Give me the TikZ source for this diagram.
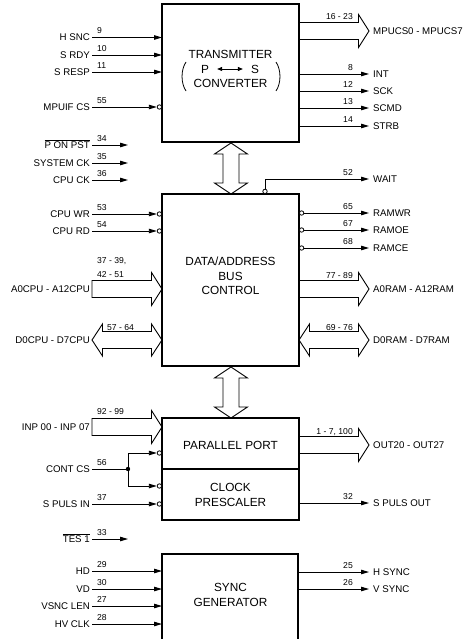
\documentclass[tikz,border=0pt]{standalone}
\usepackage{fontspec}
\setmainfont{Liberation Sans}
\usetikzlibrary{arrows.meta,calc}
\newcommand\lblfont{\fontsize{9.7pt}{11pt}\selectfont}
\newcommand\pinfont{\fontsize{8.6pt}{10pt}\selectfont}
\newcommand\ttlfont{\fontsize{11.8pt}{14.5pt}\selectfont}
\newcommand\busR[3]{\draw[bus] (#1,#3-8.5) -- (#2-10.5,#3-8.5) -- (#2-10.5,#3-16.5) -- (#2,#3) -- (#2-10.5,#3+16.5) -- (#2-10.5,#3+8.5) -- (#1,#3+8.5) -- cycle;}
\newcommand\busB[3]{\draw[bus] (#1,#3) -- (#1+10.5,#3-16) -- (#1+10.5,#3-8.5) -- (#2-10.5,#3-8.5) -- (#2-10.5,#3-16) -- (#2,#3) -- (#2-10.5,#3+16) -- (#2-10.5,#3+8.5) -- (#1+10.5,#3+8.5) -- (#1+10.5,#3+16) -- cycle;}
\newcommand\busV[3]{\draw[bus] (#1,#2) -- (#1+16.5,#2+11) -- (#1+8,#2+11) -- (#1+8,#3-11) -- (#1+16.5,#3-11) -- (#1,#3) -- (#1-16.5,#3-11) -- (#1-8,#3-11) -- (#1-8,#2+11) -- (#1-16.5,#2+11) -- cycle;}
\begin{document}
\begin{tikzpicture}[x=1pt,y=-1pt,
  box/.style={draw, line width=1.2pt, inner sep=0pt, outer sep=0pt},
  sig/.style={line width=0.9pt, -{Triangle[length=8pt,width=4.5pt]}},
  wire/.style={line width=0.9pt},
  bus/.style={line width=0.9pt, line join=miter},
  lbl/.style={font=\lblfont, inner sep=0pt, text height=7pt, text depth=0pt},
  lblL/.style={lbl, anchor=east},
  lblR/.style={lbl, anchor=west},
  pinL/.style={font=\pinfont, inner sep=0pt, anchor=base west},
  pinR/.style={font=\pinfont, inner sep=0pt, anchor=base east},
  inv/.style={circle, draw, line width=0.8pt, fill=white, minimum size=4.4pt, inner sep=0pt},
  title/.style={font=\ttlfont, align=center, inner sep=0pt}]
\useasboundingbox (0,0) rectangle (466,639);
\clip (0,0) rectangle (466,639);

% boxes
\node[box, minimum width=137pt, minimum height=138pt] (tx) at (230.5,73) {};
\node[box, minimum width=137pt, minimum height=172pt] (dc) at (230.5,280) {};
\node[box, minimum width=137pt, minimum height=51pt] (pp) at (230.5,443.5) {};
\node[box, minimum width=137pt, minimum height=51pt] (cp) at (230.5,494.5) {};
\node[box, minimum width=136pt, minimum height=110pt] (sg) at (230,609) {};

% titles
\node[title] (ttx) at (230.5,54) {TRANSMITTER};
\node[title] (tp) at (205,69) {P};
\node[title] (ts) at (255,69) {S};
\node[title] (tcv) at (230.5,83) {CONVERTER};
\draw[line width=0.9pt, {Triangle[length=5pt,width=4pt]}-{Triangle[length=5pt,width=4pt]}] ([xshift=8pt]tp.east) -- ([xshift=-8pt]ts.west);
\draw[line width=0.8pt] (186,62) .. controls (180.7,70) and (180.7,83) .. (186,91);
\draw[line width=0.8pt] (276,62) .. controls (281.3,70) and (281.3,83) .. (276,91);
\node[title] (tdc) at (230.5,276) {DATA/ADDRESS\\BUS\\CONTROL};
\node[title] (tpp) at (230.5,445) {PARALLEL PORT};
\node[title] (tcp) at (230.5,495) {CLOCK\\PRESCALER};
\node[title] (tsg) at (230.5,595) {SYNC\\GENERATOR};

% vertical buses
\busV{231}{143}{194}
\busV{231}{367}{418}

% left plain inputs
\foreach \n/\y/\t/\p/\b in {hsnc/37.5/H SNC/9/tx, srdy/55/S RDY/10/tx, sresp/72/S RESP/11/tx,
   hd/571/HD/29/sg, vd/589/VD/30/sg, vsnc/606/VSNC LEN/27/sg, hvclk/624/HV CLK/28/sg}{
  \node[lblL] (\n) at (90,\y) {\t};
  \node[pinL] at (97,\y-3.5) {\p};
  \draw[sig] ([xshift=2pt]\n.east) -- (\n.east -| \b.west);
}
% left inverted inputs
\foreach \n/\y/\t/\p in {mpuif/107/MPUIF CS/55, cpuwr/214/CPU WR/53, cpurd/231/CPU RD/54, spin/504/S PULS IN/37}{
  \node[lblL] (\n) at (90,\y) {\t};
  \node[pinL] at (97,\y-3.5) {\p};
  \node[inv, anchor=east] (inv\n) at (162,\y) {};
  \draw[sig] ([xshift=2pt]\n.east) -- (inv\n.west);
}
% left free inputs
\foreach \n/\y/\t/\p in {ponpst/145/{$\overline{\mbox{P ON PST}}$}/34, sysck/163/SYSTEM CK/35, cpuck/180/CPU CK/36, tes/539/{$\overline{\mbox{TES 1}}$}/33}{
  \node[lblL] (\n) at (90,\y) {\t};
  \node[pinL] at (97,\y-3.5) {\p};
  \coordinate (e\n) at (128,\y);
  \draw[sig] ([xshift=2pt]\n.east) -- (e\n);
}
% CONT CS
\node[lblL] (contcs) at (90,469) {CONT CS};
\node[pinL] at (97,465.5) {56};
\coordinate (jn) at (128,469);
\node[inv, anchor=east] (invc1) at (162,453) {};
\node[inv, anchor=east] (invc2) at (162,486) {};
\draw[wire] ([xshift=2pt]contcs.east) -- (jn);
\draw[sig] (jn) |- (invc1.west);
\draw[sig] (jn) |- (invc2.west);
\fill (jn) circle (2.2);

% right plain outputs
\foreach \n/\y/\t/\p/\b in {int/74/INT/8/tx, sck/91/SCK/12/tx, scmd/108/SCMD/13/tx, strb/126/STRB/14/tx,
   spout/503/S PULS OUT/32/cp, hsync/572/H SYNC/25/sg, vsync/589/V SYNC/26/sg}{
  \node[lblR] (\n) at (373,\y) {\t};
  \node[pinR] at (353,\y-3.5) {\p};
  \draw[sig] (\n.west -| \b.east) -- ([xshift=-4pt]\n.west);
}
% right inverted outputs
\foreach \n/\y/\t/\p in {ramwr/213/RAMWR/65, ramoe/230/RAMOE/67, ramce/248/RAMCE/68}{
  \node[lblR] (\n) at (373,\y) {\t};
  \node[pinR] at (353,\y-3.5) {\p};
  \node[inv, anchor=west] (inv\n) at (299,\y) {};
  \draw[sig] (inv\n.east) -- ([xshift=-4pt]\n.west);
}
% WAIT
\node[inv, anchor=south] (invwait) at (265,194) {};
\node[lblR] (wait) at (373,179) {WAIT};
\node[pinR] at (353,175.5) {52};
\draw[sig] (invwait.north) |- ([xshift=-4pt]wait.west);

% buses
\busR{299}{369}{31}
\node[lblR] (mpucs) at (373,31) {MPUCS0 - MPUCS7};
\node[pinR] at (353,19.5) {16 - 23};

\busR{92}{162}{289}
\node[lblL] (a0cpu) at (90,289) {A0CPU - A12CPU};
\node[pinL] at (97,263) {37 - 39,};
\node[pinL] at (97,277) {42 - 51};

\busB{92}{162}{340}
\node[lblL] (d0cpu) at (90,340) {D0CPU - D7CPU};
\node[pinL] at (107,330) {57 - 64};

\busR{92}{162}{427}
\node[lblL] (inp) at (90,427) {INP 00 - INP 07};
\node[pinL] at (97,414) {92 - 99};

\busR{299}{369}{289}
\node[lblR] (a0ram) at (373,289) {A0RAM - A12RAM};
\node[pinR] at (353,278) {77 - 89};

\busB{299}{369}{340}
\node[lblR] (d0ram) at (373,340) {D0RAM - D7RAM};
\node[pinR] at (353,330) {69 - 76};

\busR{299}{369}{445}
\node[lblR] (out) at (373,445) {OUT20 - OUT27};
\node[pinR] at (353,434) {1 - 7, 100};
\end{tikzpicture}
\end{document}
